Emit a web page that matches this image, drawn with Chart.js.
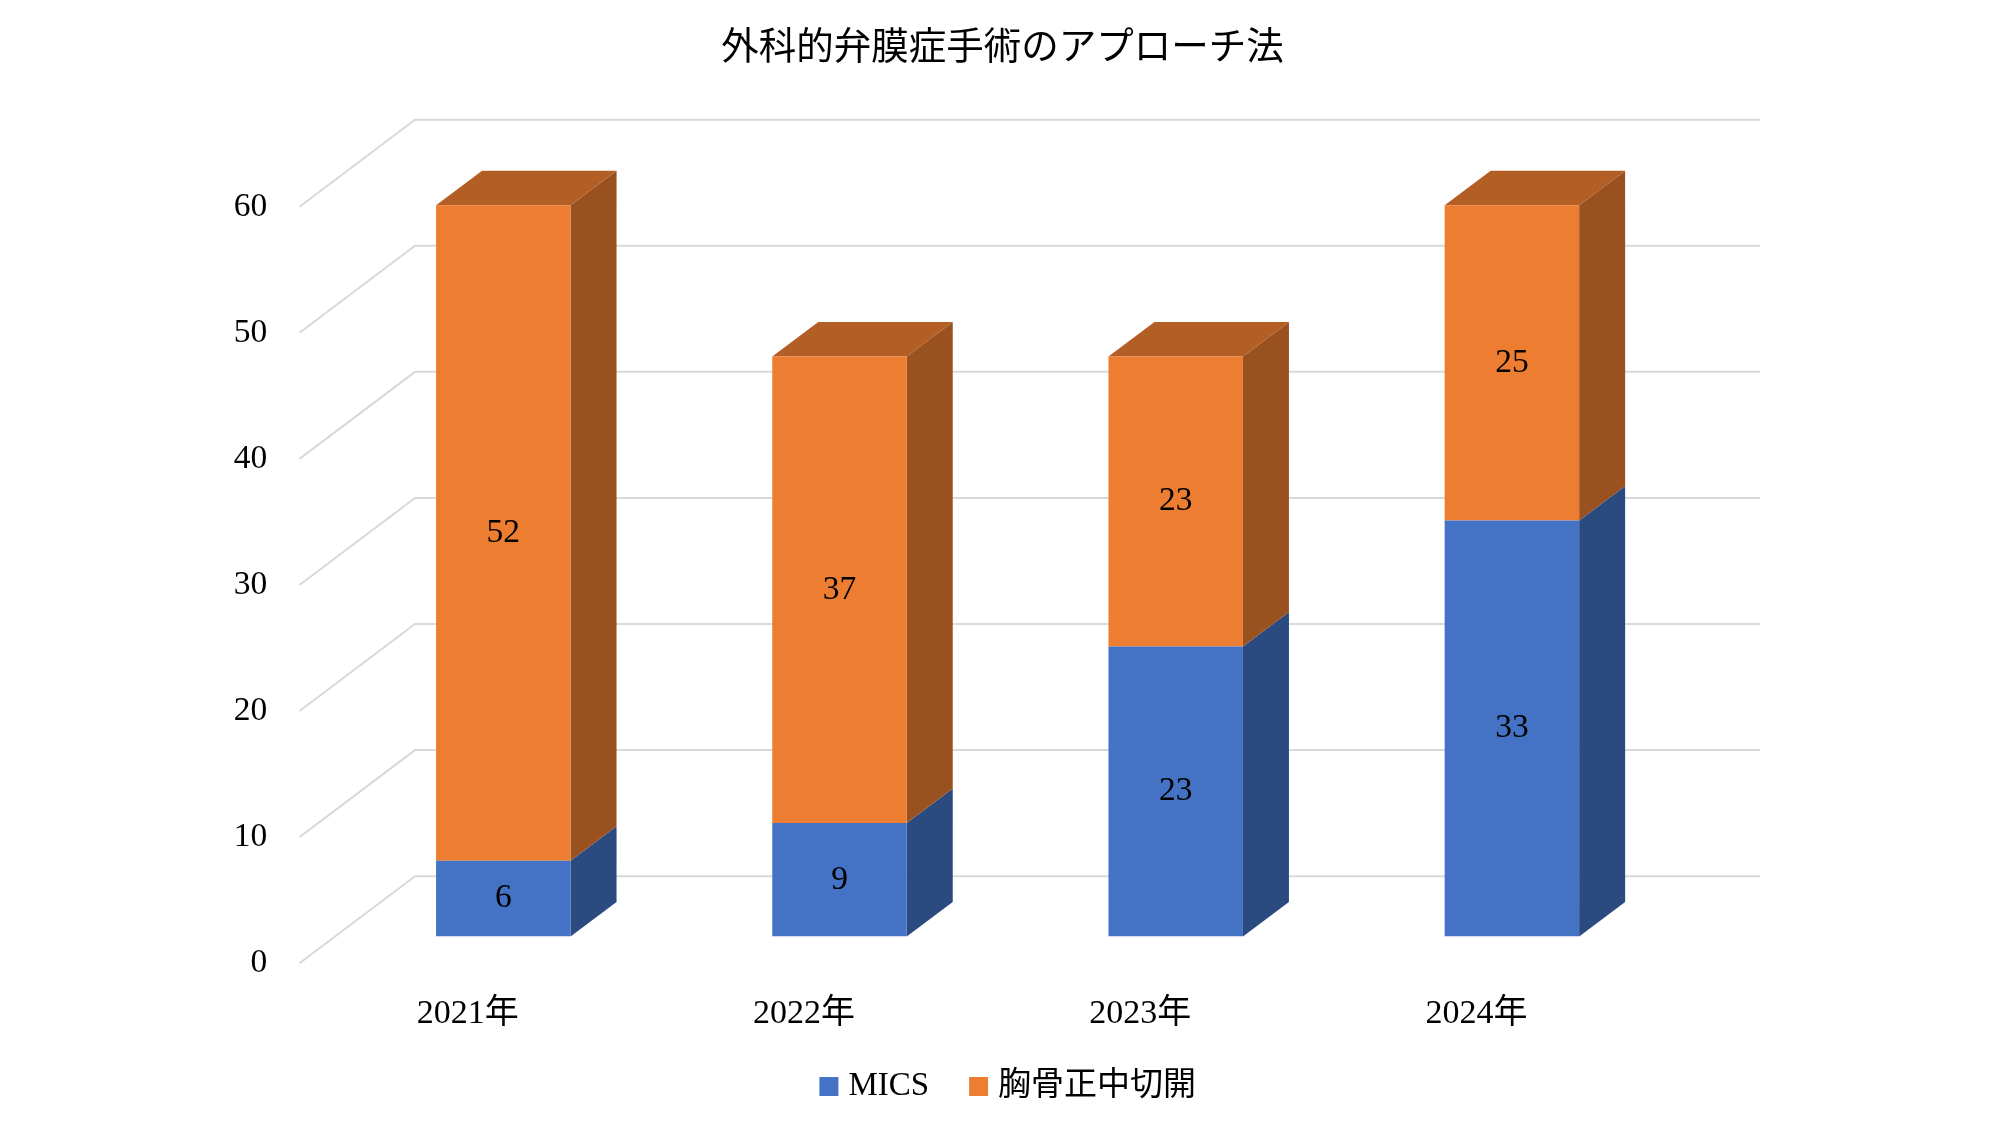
<!DOCTYPE html>
<html lang="ja">
<head>
<meta charset="utf-8">
<title>外科的弁膜症手術のアプローチ法</title>
<style>
  html, body { margin: 0; padding: 0; background: #fff; }
  canvas { display: block; }
</style>
<script src="https://cdn.jsdelivr.net/npm/chart.js@4"></script>
</head>
<body>
<canvas id="chart" width="2000" height="1125"></canvas>
<script>
const titleText = '外科的弁膜症手術のアプローチ法';
const categories = ['2021年', '2022年', '2023年', '2024年'];
const seriesNames = ['MICS', '胸骨正中切開'];
const micsValues = [6, 9, 23, 33];
const sternotomyValues = [52, 37, 23, 25];

const fontFamily = '"Liberation Serif", "Noto Sans CJK JP", serif';
const fontSize = 33.5;

// bar depth, and where the wall sits relative to the bar plane
const barDx = 46, barDy = 34.5;
const wallBackDy = -60.3, wallFrontDy = 26.7;
const wallFrontX = 299.5, wallBackX = 415, wallRightX = 1760;

const sideColors = ['#2A4A80', '#9A5120'];
const topColor = '#B35E24';

function poly(ctx, pts, color) {
  ctx.fillStyle = color;
  ctx.beginPath();
  pts.forEach((p, i) => i ? ctx.lineTo(p[0], p[1]) : ctx.moveTo(p[0], p[1]));
  ctx.closePath();
  ctx.fill();
}

const fake3d = {
  id: 'fake3d',
  afterLayout(chart) {
    // padding is lopsided to fit the plot, so put title and legend back
    chart.titleBlock.left += 62.5;
    chart.titleBlock.right += 62.5;
    chart.legend.left += 71;
    chart.legend.right += 71;
    chart.legend.top -= 12;
    chart.legend.bottom -= 12;
  },
  beforeDatasetsDraw(chart) {
    const ctx = chart.ctx;
    const y = chart.scales.y;

    // floor and wall gridlines
    ctx.save();
    ctx.strokeStyle = '#D9D9D9';
    ctx.lineWidth = 2;
    y.ticks.forEach(t => {
      const py = y.getPixelForValue(t.value);
      ctx.beginPath();
      ctx.moveTo(wallFrontX, py + wallFrontDy);
      ctx.lineTo(wallBackX, py + wallBackDy);
      ctx.lineTo(wallRightX, py + wallBackDy);
      ctx.stroke();
    });
    ctx.restore();

    // side and top faces
    chart.data.datasets.forEach((ds, i) => {
      chart.getDatasetMeta(i).data.forEach(bar => {
        const r = bar.x + bar.width / 2;
        const l = bar.x - bar.width / 2;
        poly(ctx, [[r, bar.y], [r + barDx, bar.y - barDy], [r + barDx, bar.base - barDy], [r, bar.base]], sideColors[i]);
        if (i === chart.data.datasets.length - 1) {
          poly(ctx, [[l, bar.y], [l + barDx, bar.y - barDy], [r + barDx, bar.y - barDy], [r, bar.y]], topColor);
        }
      });
    });
  },
  afterDatasetsDraw(chart) {
    const ctx = chart.ctx;
    ctx.save();
    ctx.fillStyle = '#000';
    ctx.font = fontSize + 'px ' + fontFamily;
    ctx.textAlign = 'center';
    ctx.textBaseline = 'middle';
    chart.data.datasets.forEach((ds, i) => {
      chart.getDatasetMeta(i).data.forEach((bar, j) => {
        ctx.fillText(ds.data[j], bar.x, (bar.y + bar.base) / 2);
      });
    });
    ctx.restore();
  }
};

new Chart(document.getElementById('chart'), {
  type: 'bar',
  data: {
    labels: categories,
    datasets: [
      { label: seriesNames[0], data: micsValues, backgroundColor: '#4472C4', borderWidth: 0 },
      { label: seriesNames[1], data: sternotomyValues, backgroundColor: '#ED7D31', borderWidth: 0 }
    ]
  },
  options: {
    responsive: false,
    animation: false,
    barPercentage: 0.4,
    categoryPercentage: 1,
    layout: { padding: { left: 200, right: 320 } },
    scales: {
      x: {
        stacked: true,
        afterFit: s => { s.height = 99; },
        grid: { display: false, drawTicks: false },
        border: { display: false },
        ticks: {
          color: '#000',
          padding: 57,
          labelOffset: -35.5,
          maxRotation: 0,
          font: { family: fontFamily, size: 34 }
        }
      },
      y: {
        stacked: true,
        min: 0,
        max: 60,
        afterFit: s => { s.width = 135.2; },
        grid: { display: false, drawTicks: false },
        border: { display: false },
        ticks: {
          color: '#000',
          stepSize: 10,
          padding: 68,
          labelOffset: 27,
          font: { family: fontFamily, size: fontSize }
        }
      }
    },
    plugins: {
      title: {
        display: true,
        text: titleText,
        color: '#000',
        font: { family: fontFamily, size: 37.5, weight: 'normal', lineHeight: 1.2 },
        padding: { top: 27, bottom: 108 }
      },
      legend: {
        position: 'bottom',
        labels: {
          color: '#000',
          font: { family: fontFamily, size: 33 },
          usePointStyle: true,
          pointStyle: 'rect',
          boxWidth: 6,
          boxHeight: 19,
          padding: 46.5
        }
      },
      tooltip: { enabled: false }
    }
  },
  plugins: [fake3d]
});
</script>
</body>
</html>
